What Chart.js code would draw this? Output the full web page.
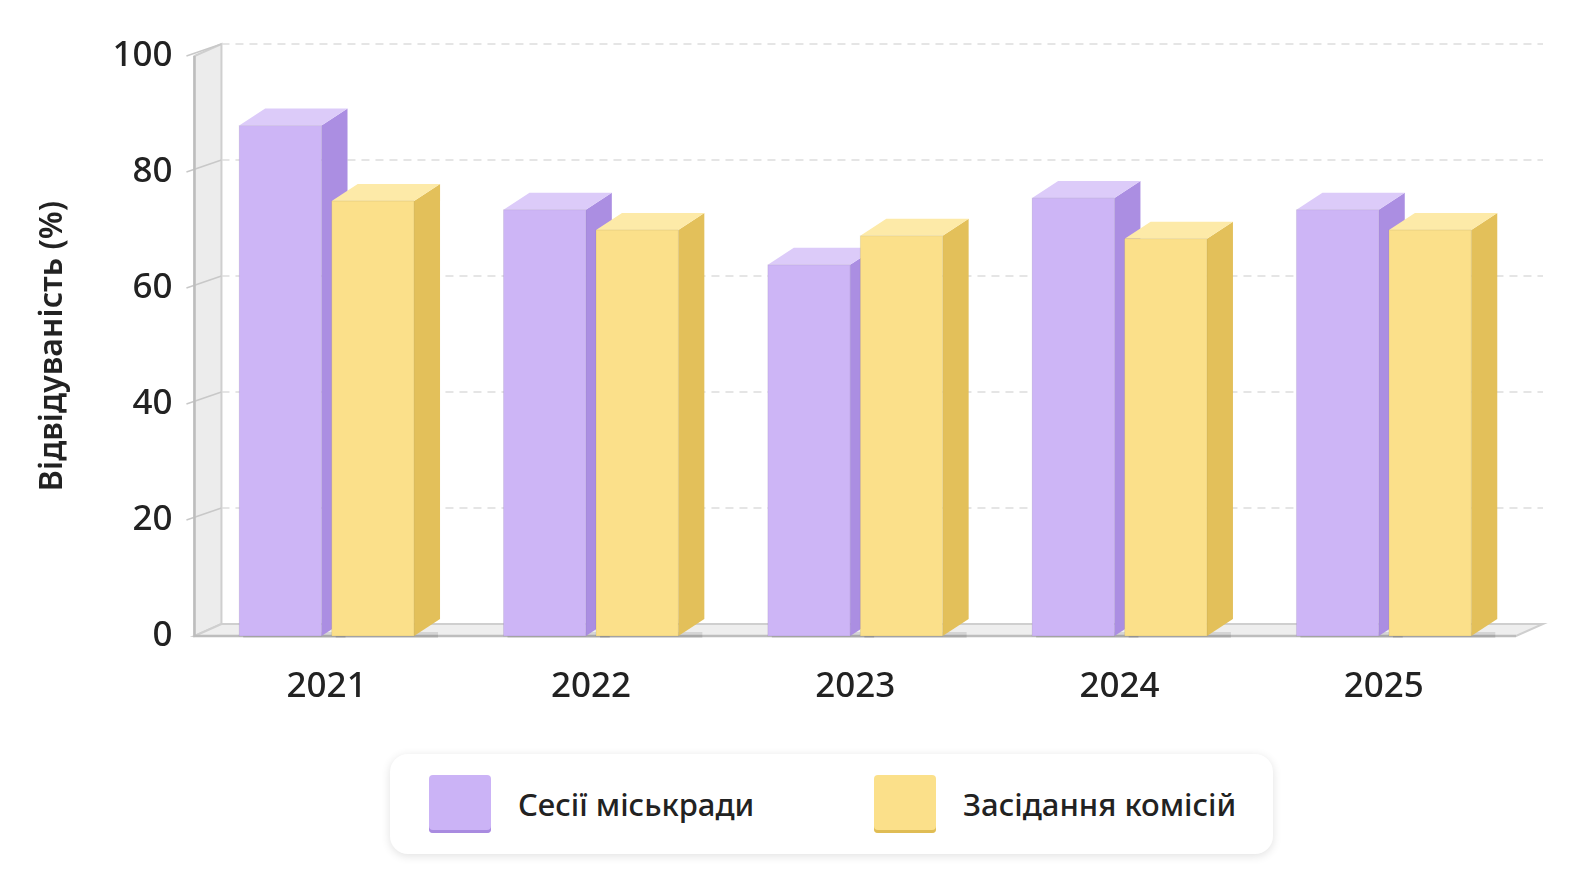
<!DOCTYPE html>
<html><head><meta charset="utf-8">
<script src="https://cdn.jsdelivr.net/npm/chart.js@4/dist/chart.umd.min.js"></script>
<style>
body{margin:0;background:#fff;font-family:"Noto Sans",sans-serif;}
#wrap{position:relative;width:1586px;height:893px;}
#c{position:absolute;left:0;top:0;}
#legend{position:absolute;left:390px;top:754px;width:883px;height:100px;border-radius:18px;background:#fff;box-shadow:0 2px 10px rgba(0,0,0,0.12);display:flex;align-items:center;font-size:31px;font-weight:500;color:#222;}
.it{display:flex;align-items:center;position:absolute;}
.sw{width:62px;height:58px;border-radius:4px;margin-right:27px;}
</style></head><body>
<div id="wrap"><canvas id="c" width="1586" height="740"></canvas>
<div id="legend">
<div class="it" style="left:39px"><div class="sw" style="background:#cbb3f6;box-shadow:inset 0 -3px 0 #a98be0"></div>Сесії міськради</div>
<div class="it" style="left:484px"><div class="sw" style="background:#fbe08a;box-shadow:inset 0 -3px 0 #e0bd55"></div>Засідання комісій</div>
</div></div>
<script>
const categories=["2021","2022","2023","2024","2025"];
const sessions=[88,73.5,64,75.5,73.5];
const commissions=[75,70,69,68.5,70];
const yTicks=[0,20,40,60,80,100];
const DX=26,DY=-17,WDX=27,WDY=-12;
const faces=[{front:"#cdb5f6",top:"#dccbf9",side:"#ab8ee2"},{front:"#fbe08a",top:"#fdeaa8",side:"#e3c05a"}];
const plugin3d={id:"p3d",
beforeDatasetsDraw(ch){const c=ch.ctx,a=ch.chartArea,y=ch.scales.y;
 c.save();
 c.fillStyle="#ececec";c.beginPath();c.moveTo(a.left,a.bottom);c.lineTo(a.left+WDX,a.bottom+WDY);c.lineTo(a.left+WDX,y.getPixelForValue(100)+WDY);c.lineTo(a.left,y.getPixelForValue(100));c.closePath();c.fill();
 c.strokeStyle="#cfcfcf";c.lineWidth=2;c.stroke();
 c.fillStyle="#eeeeee";c.beginPath();c.moveTo(a.left,a.bottom);c.lineTo(a.right,a.bottom);c.lineTo(a.right+WDX,a.bottom+WDY);c.lineTo(a.left+WDX,a.bottom+WDY);c.closePath();c.fill();c.stroke();
 c.setLineDash([8,6]);c.strokeStyle="#dddddd";c.lineWidth=1.5;
 yTicks.forEach(t=>{if(t===0)return;const py=y.getPixelForValue(t)+WDY;c.beginPath();c.moveTo(a.left+WDX,py);c.lineTo(a.right+WDX,py);c.stroke();
  c.setLineDash([]);c.strokeStyle="#c8c8c8";c.beginPath();c.moveTo(a.left-8,py-WDY);c.lineTo(a.left+WDX,py);c.stroke();c.setLineDash([8,6]);c.strokeStyle="#dddddd";});
 c.setLineDash([]);c.strokeStyle="#bdbdbd";c.lineWidth=2.5;c.beginPath();c.moveTo(a.left,y.getPixelForValue(100));c.lineTo(a.left,a.bottom);c.lineTo(a.right,a.bottom);c.stroke();
 c.fillStyle="rgba(0,0,0,0.10)";
 ch.data.datasets.forEach((d,i)=>ch.getDatasetMeta(i).data.forEach(b=>{const x0=b.x-b.width/2;c.fillRect(x0+4,a.bottom-4,b.width+DX-6,6);}));
 c.restore();},
afterDatasetsDraw(ch){const c=ch.ctx;c.save();
 const n=ch.data.labels.length;
 for(let k=0;k<n;k++){ch.data.datasets.forEach((d,i)=>{const f=faces[i];const b=ch.getDatasetMeta(i).data[k];
  const x0=b.x-b.width/2,x1=b.x+b.width/2,yt=b.y,yb=b.base;
  c.fillStyle=f.side;c.beginPath();c.moveTo(x1,yt);c.lineTo(x1+DX,yt+DY);c.lineTo(x1+DX,yb+DY);c.lineTo(x1,yb);c.closePath();c.fill();
  c.fillStyle=f.top;c.beginPath();c.moveTo(x0,yt);c.lineTo(x0+DX,yt+DY);c.lineTo(x1+DX,yt+DY);c.lineTo(x1,yt);c.closePath();c.fill();
  c.fillStyle=f.front;c.fillRect(x0,yt,b.width,yb-yt);
  c.strokeStyle="rgba(0,0,0,0.07)";c.lineWidth=1;c.strokeRect(x0,yt,b.width,yb-yt);
 });}
 c.restore();}};
new Chart(document.getElementById("c"),{type:"bar",
data:{labels:categories,datasets:[
 {label:"Сесії міськради",data:sessions,backgroundColor:"rgba(0,0,0,0)"},
 {label:"Засідання комісій",data:commissions,backgroundColor:"rgba(0,0,0,0)"}]},
options:{responsive:false,animation:false,
 layout:{padding:{left:30,right:70,top:56,bottom:10}},
 datasets:{bar:{categoryPercentage:0.7,barPercentage:0.89}},
 plugins:{legend:{display:false},tooltip:{enabled:false}},
 scales:{
  x:{grid:{display:false},border:{display:false},ticks:{color:"#222",font:{size:35,weight:"500",family:"Noto Sans"},padding:22}},
  y:{min:0,max:100,afterBuildTicks:s=>{s.ticks=yTicks.map(v=>({value:v}));},grid:{display:false},border:{display:false},
     ticks:{color:"#222",font:{size:35,weight:"500",family:"Noto Sans"},padding:14},
     title:{display:true,text:"Відвідуваність (%)",color:"#222",font:{size:32,weight:"600",family:"Noto Sans"},padding:{bottom:26}}}}},
plugins:[plugin3d]});
</script></body></html>
